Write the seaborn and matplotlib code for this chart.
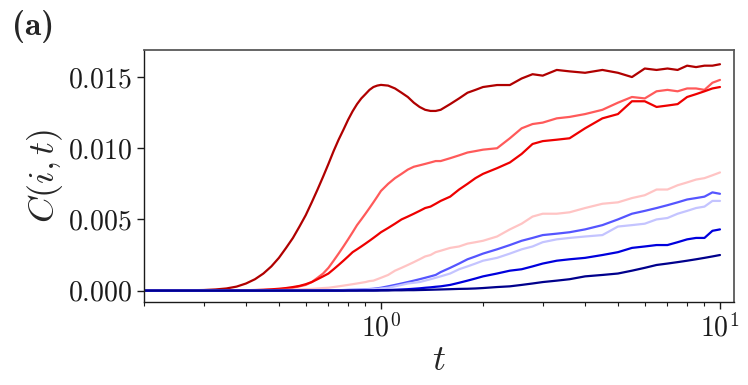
import numpy as np
import pandas as pd
import matplotlib
matplotlib.use("Agg")
import matplotlib.pyplot as plt
import seaborn as sns
from matplotlib.ticker import LogLocator, NullFormatter

# tiempos (eje log) y valores
t = [0.2, 0.25, 0.3,
     0.325, 0.35, 0.375, 0.4, 0.425, 0.45, 0.475, 0.5, 0.525, 0.55, 0.575, 0.6, 0.625, 0.65,
     0.675, 0.7, 0.725, 0.75, 0.775, 0.8, 0.825, 0.85, 0.875, 0.9, 0.925, 0.95, 0.975, 1.0,
     1.05, 1.1, 1.15, 1.2, 1.25, 1.3, 1.35, 1.4, 1.45, 1.5,
     1.6, 1.7, 1.8, 1.9, 2.0,
     2.2, 2.4, 2.6, 2.8, 3.0, 3.3, 3.6, 4.0, 4.5, 5.0, 5.5, 6.0, 6.5, 7.0, 7.5, 8.0, 8.5,
     9.0, 9.5, 10.0]

c_darkred = [0.0, 0.00001, 0.00004,
             0.00008, 0.00015, 0.00028, 0.0005, 0.0008, 0.0012, 0.0017, 0.0023, 0.0030, 0.0037,
             0.0045, 0.0053, 0.0062, 0.0071, 0.0080, 0.0089, 0.0098, 0.0106, 0.0113, 0.0120,
             0.0126, 0.0131, 0.0135, 0.0138, 0.0141, 0.0143, 0.0144, 0.01445,
             0.0144, 0.0142, 0.0139, 0.0136, 0.0132, 0.0129, 0.0127, 0.01262, 0.01262, 0.0127,
             0.0131, 0.0135, 0.0139, 0.0141, 0.0143,
             0.01444, 0.01444, 0.0149, 0.0152, 0.0151, 0.0155, 0.0154, 0.0153, 0.0155, 0.0153,
             0.0150, 0.0156, 0.0155, 0.0156, 0.0155, 0.0158, 0.0157, 0.0158, 0.0158, 0.0159]
c_salmon = [0.0, 0.0, 0.0,
            0.0, 0.00001, 0.00001, 0.00002, 0.00003, 0.00004, 0.00006, 0.00009, 0.00013, 0.0002,
            0.0003, 0.0004, 0.0006, 0.0009, 0.0012, 0.0016, 0.0021, 0.0026, 0.0031, 0.0036,
            0.0041, 0.0046, 0.0050, 0.0054, 0.0058, 0.0062, 0.0066, 0.0070,
            0.0075, 0.0079, 0.0082, 0.0085, 0.0087, 0.0088, 0.0089, 0.0090, 0.0091, 0.0091,
            0.0093, 0.0095, 0.0097, 0.0098, 0.0099,
            0.0100, 0.0107, 0.0114, 0.0117, 0.0118, 0.0121, 0.0122, 0.0124, 0.0127, 0.0132,
            0.0136, 0.0135, 0.0140, 0.0141, 0.0140, 0.0142, 0.0142, 0.0141, 0.0146, 0.0148]
c_red = [0.0, 0.0, 0.0,
         0.0, 0.00001, 0.00002, 0.00003, 0.00004, 0.00006, 0.00009, 0.00013, 0.00018, 0.00025,
         0.00033, 0.00045, 0.0006, 0.0008, 0.0010, 0.0012, 0.0015, 0.0018, 0.0021, 0.0024,
         0.0027, 0.0029, 0.0031, 0.0033, 0.0035, 0.0037, 0.0039, 0.0041,
         0.0044, 0.0047, 0.0050, 0.0052, 0.0054, 0.0056, 0.0058, 0.0059, 0.0061, 0.0063,
         0.0066, 0.0071, 0.0075, 0.0079, 0.0082,
         0.0086, 0.0090, 0.0096, 0.0103, 0.0105, 0.0106, 0.0107, 0.0114, 0.0121, 0.0124,
         0.0133, 0.0133, 0.0129, 0.0130, 0.0131, 0.0136, 0.0138, 0.0140, 0.0142, 0.0143]
c_pink = [0.0, 0.0, 0.0,
          0.0, 0.0, 0.0, 0.00001, 0.00001, 0.00002, 0.00003, 0.00004, 0.00005, 0.00006,
          0.00008, 0.0001, 0.00012, 0.00015, 0.00018, 0.0002, 0.00025, 0.0003, 0.00035, 0.0004,
          0.00045, 0.0005, 0.00055, 0.0006, 0.00067, 0.0007, 0.0008, 0.0009,
          0.0011, 0.0014, 0.0016, 0.0018, 0.0020, 0.0022, 0.0024, 0.0025, 0.0027, 0.0028,
          0.0030, 0.0031, 0.0033, 0.0034, 0.0035,
          0.0038, 0.0043, 0.0047, 0.0052, 0.0054, 0.0054, 0.0055, 0.0058, 0.0061, 0.0062,
          0.0065, 0.0067, 0.0071, 0.0071, 0.0074, 0.0076, 0.0078, 0.0079, 0.0081, 0.0083]
c_blue = [0.0, 0.0, 0.0,
          0.0, 0.0, 0.0, 0.0, 0.0, 0.0, 0.0, 0.0, 0.0, 0.0,
          0.0, 0.0, 0.0, 0.00001, 0.00001, 0.00002, 0.00002, 0.00003, 0.00004, 0.00005,
          0.00006, 0.00007, 0.00008, 0.0001, 0.00011, 0.00013, 0.00016, 0.0002,
          0.0003, 0.0004, 0.0005, 0.0006, 0.0007, 0.0008, 0.0009, 0.0010, 0.0011, 0.0013,
          0.0016, 0.0019, 0.0022, 0.0024, 0.0026,
          0.0029, 0.0032, 0.0035, 0.0037, 0.0039, 0.0040, 0.0041, 0.0043, 0.0046, 0.0050,
          0.0054, 0.0056, 0.0058, 0.0060, 0.0062, 0.0064, 0.0065, 0.0066, 0.0069, 0.0068]
c_lightblue = [0.0, 0.0, 0.0,
               0.0, 0.0, 0.0, 0.0, 0.0, 0.0, 0.0, 0.0, 0.0, 0.0,
               0.0, 0.0, 0.0, 0.0, 0.0, 0.00001, 0.00001, 0.00002, 0.00003, 0.00004,
               0.00005, 0.00006, 0.00007, 0.00008, 0.00009, 0.0001, 0.00012, 0.00015,
               0.0002, 0.0003, 0.0004, 0.0005, 0.00055, 0.0006, 0.0007, 0.0008, 0.0009, 0.0010,
               0.0012, 0.0015, 0.0017, 0.0019, 0.0021,
               0.0023, 0.0026, 0.0029, 0.0031, 0.0034, 0.0036, 0.0037, 0.0038, 0.0039, 0.0045,
               0.0046, 0.0047, 0.0050, 0.0051, 0.0054, 0.0056, 0.0058, 0.0059, 0.0063, 0.0063]
c_midblue = [0.0, 0.0, 0.0,
             0.0, 0.0, 0.0, 0.0, 0.0, 0.0, 0.0, 0.0, 0.0, 0.0,
             0.0, 0.0, 0.0, 0.0, 0.0, 0.0, 0.0, 0.0, 0.0, 0.00001,
             0.00001, 0.00001, 0.00002, 0.00002, 0.00002, 0.00002, 0.00003, 0.00003,
             0.00004, 0.00006, 0.00008, 0.0001, 0.00013, 0.00016, 0.0002, 0.00023, 0.00027, 0.0003,
             0.0004, 0.00055, 0.0007, 0.00085, 0.0010,
             0.0012, 0.0014, 0.0015, 0.0017, 0.0019, 0.0021, 0.0022, 0.0023, 0.0025, 0.0027,
             0.0030, 0.0031, 0.0032, 0.0032, 0.0034, 0.0036, 0.0037, 0.0037, 0.0042, 0.0043]
c_navy = [0.0, 0.0, 0.0,
          0.0, 0.0, 0.0, 0.0, 0.0, 0.0, 0.0, 0.0, 0.0, 0.0,
          0.0, 0.0, 0.0, 0.0, 0.0, 0.0, 0.0, 0.0, 0.0, 0.0,
          0.0, 0.0, 0.0, 0.0, 0.0, 0.0, 0.0, 0.00001,
          0.00001, 0.00002, 0.00002, 0.00003, 0.00003, 0.00004, 0.00005, 0.00006, 0.00007, 0.00008,
          0.0001, 0.00012, 0.00013, 0.00015, 0.00018,
          0.00025, 0.0003, 0.0004, 0.0005, 0.0006, 0.0007, 0.0008, 0.0010, 0.0011, 0.0012,
          0.0014, 0.0016, 0.0018, 0.0019, 0.0020, 0.0021, 0.0022, 0.0023, 0.0024, 0.0025]

series = [c_darkred, c_salmon, c_red, c_pink, c_blue, c_lightblue, c_midblue, c_navy]
colors = ['#b00000', '#ff5a5a', '#ee0000', '#ffc4c4', '#5555ff', '#c4c4ff', '#0000dd', '#00008c']

sns.set_style('ticks')
plt.rcParams['font.family'] = 'serif'
plt.rcParams['font.serif'] = ['cmr10']
plt.rcParams['mathtext.fontset'] = 'cm'
plt.rcParams['axes.formatter.use_mathtext'] = True
plt.rcParams['axes.unicode_minus'] = False

fig = plt.figure(figsize=(7.48, 3.85), dpi=100)
ax = fig.add_axes([0.1925, 0.2156, 0.7888, 0.6545])

for vals, col in zip(series, colors):
    sns.lineplot(x=t, y=vals, color=col, lw=1.6, ax=ax, solid_joinstyle='round')

ax.set_xscale('log')
ax.set_xlim(0.2, 11)
ax.set_ylim(-0.0008, 0.0169)
ax.set_yticks([0.0, 0.005, 0.010, 0.015])
ax.set_yticklabels(['$0.000$', '$0.005$', '$0.010$', '$0.015$'])
ax.xaxis.set_minor_locator(LogLocator(base=10, subs=np.arange(2, 10)))
ax.xaxis.set_minor_formatter(NullFormatter())
ax.tick_params(axis='both', which='major', labelsize=20, length=5, width=1, colors='0.1')
ax.tick_params(axis='x', which='minor', length=3, width=0.8, colors='0.1')

for s in ['left', 'bottom']:
    ax.spines[s].set_color('0.1')
    ax.spines[s].set_linewidth(1.0)
for s in ['top', 'right']:
    ax.spines[s].set_color('0.35')
    ax.spines[s].set_linewidth(1.3)

ax.set_xlabel('$t$', fontsize=26, labelpad=2)
ax.set_ylabel('$C(i,t)$', fontsize=26, labelpad=2)

fig.text(0.016, 0.975, '(a)', fontsize=24, va='top', ha='left', family='cmb10')

fig.savefig('out.png', dpi=100)
